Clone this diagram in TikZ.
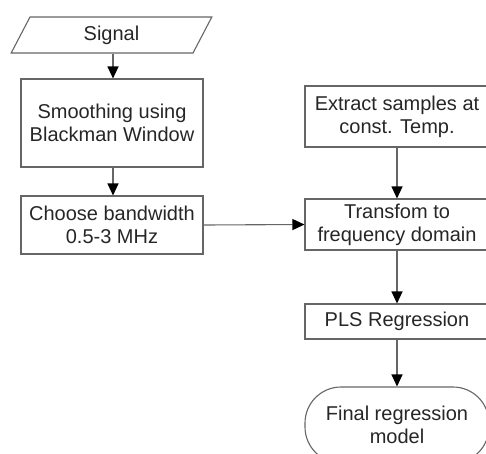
\documentclass[tikz,border=0pt]{standalone}
\usepackage{fontspec}
\setmainfont{Liberation Sans}
\usetikzlibrary{arrows.meta,shapes.geometric}
\begin{document}
\begin{tikzpicture}[x=1pt,y=-1pt,
  every node/.style={font=\fontsize{20}{23}\selectfont, text=black!85, align=center},
  box/.style={draw=black!60, line width=1.1pt, rectangle, inner sep=0pt},
  conn/.style={draw=black!60, line width=1.1pt, -{Triangle[length=12pt,width=11pt,fill=black,color=black]}}]
\useasboundingbox (0,0) rectangle (486,453);
\clip (0,0) rectangle (486,453);
\node[box, trapezium, trapezium left angle=71, trapezium right angle=109, trapezium stretches=true, minimum width=201pt, minimum height=36pt] (signal) at (111.5,35) {Signal};
\node[box, minimum width=182pt, minimum height=88pt] (smooth) at (112,123) {Smoothing using\\Blackman Window};
\node[box, minimum width=182pt, minimum height=58pt] (choose) at (112,225) {Choose bandwidth\\0.5-3 MHz};
\node[box, minimum width=184pt, minimum height=61pt] (extract) at (397,116.5) {Extract samples at\\const. Temp.};
\node[box, minimum width=184pt, minimum height=51pt] (transform) at (397,224.5) {Transfom to\\frequency domain};
\node[box, minimum width=184pt, minimum height=35pt] (pls) at (397,321.5) {PLS Regression};
\node[box, rounded corners=36pt, minimum width=184pt, minimum height=76pt] (final) at (397,425) {Final regression\\model};
\draw[conn] (signal.south -| 113,0) -- (smooth.north -| 113,0);
\draw[conn] (smooth.south -| 113,0) -- (choose.north -| 113,0);
\draw[conn] (choose.east) -- (transform.west);
\draw[conn] (extract.south) -- (transform.north);
\draw[conn] (transform.south) -- (pls.north);
\draw[conn] (pls.south) -- (final.north);
\end{tikzpicture}
\end{document}
